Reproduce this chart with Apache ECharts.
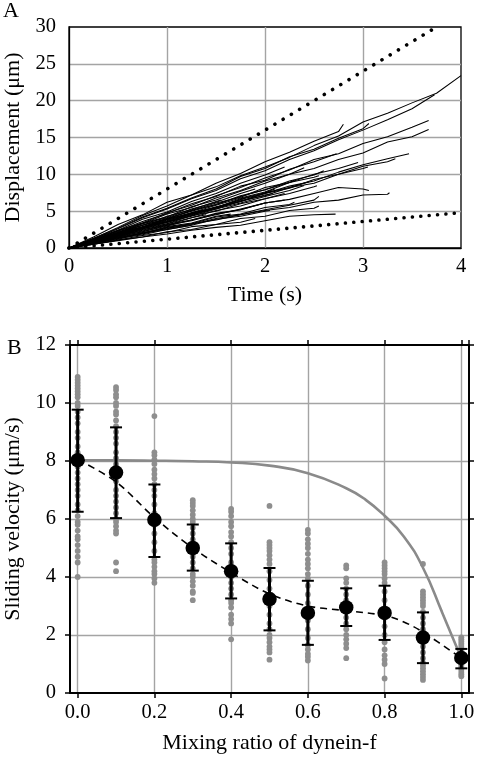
<!DOCTYPE html>
<html><head><meta charset="utf-8">
<script src="https://cdn.jsdelivr.net/npm/echarts@6/dist/echarts.min.js"></script>
<style>html,body{margin:0;padding:0;background:#fff}#c{width:478px;height:757px}</style>
</head><body><div id="c"></div>
<script>
// ---------- Panel A: displacement trajectories (sampled every 0.25 s) ----------
const timeStep = 0.25;
const trajectories = [
  [0,1.3,2.8,4.4,5.7,7.2,8.3,9.8,11.0,12.3,13.9,15.2,17.1,18.3,19.7,21.0],
  [0,1.2,2.6,4.1,5.3,6.7,7.8,9.4,10.5,12.0,13.2,14.7,16.0,17.4,18.9],
  [0,1.0,2.4,3.4,4.8,5.8,7.1,8.2,9.5,10.6,12.0,12.8,14.2,15.1,16.4],
  [0,1.1,2.1,3.4,4.2,5.6,6.5,7.7,8.8,10.0,10.8,12.0,12.9,14.4,15.1],
  [0,0.9,1.8,2.8,3.6,4.7,5.5,6.6,7.4,8.4,9.1,10.3,11.3,12.1],
  [0,0.8,1.7,2.6,3.5,4.4,5.5,6.3,7.4,8.1,9.3,10.0,11.1,11.7],
  [0,0.7,1.3,2.1,2.6,3.3,3.8,4.5,5.1,5.5,6.2,6.5,7.2,7.3],
  [0,0.8,1.7,2.3,3.2,3.8,4.7,5.2,6.1,6.6,7.4,8.2,8.0],
  [0,1.5,3.2,4.5,6.2,7.2,8.8,10.1,11.7,13.0,14.5,15.8],
  [0,1.3,2.7,4.2,5.4,6.8,8.0,9.7,10.8,12.4,13.4,14.9,16.2],
  [0,0.5,1.0,1.5,1.9,2.4,2.8,3.1,3.7,4.3,4.5],
  [0,0.6,1.4,1.9,2.7,3.2,4.0,4.5,5.2,5.8,6.5],
  [0,0.8,1.7,2.4,3.3,4.1,5.1,5.7,6.7,7.4,8.3],
  [0,1.1,2.3,3.6,4.7,6.0,7.0,8.4,9.2,10.7,11.7],
  [0,0.9,1.8,2.6,3.5,4.3,5.3,6.1,7.0,7.8],
  [0,1.0,2.1,2.9,4.0,5.0,5.9,7.1,7.9,8.9],
  [0,0.9,2.0,2.8,3.9,4.8,5.8,6.8,7.6,8.9,9.6],
  [0,1.0,1.8,2.8,3.6,4.5,5.4,6.3,7.2],
  [0,0.7,1.5,2.2,3.0,3.8,4.5,5.3,6.1],
  [0,1.0,1.9,2.9,3.7,4.8,5.5,6.5],
  [0,0.9,1.9,2.8,3.9,4.7,5.5,6.7,7.5],
  [0,1.0,2.0,3.1,4.0,5.1,5.9,7.0,7.9,9.1,9.9],
  [0,1.1,2.0,3.1,3.9,5.1,6.1,6.9,8.2,8.9,10.0,10.8],
  [0,0.6,1.3,1.8,2.5,3.1,3.9,4.3,5.0],
  [0,0.7,1.5,2.0,2.9,3.4,4.3],
  [0,1.2,2.3,3.3,4.6,5.5,6.8,7.8,9.1,10.0],
  [0,1.0,2.2,3.1,4.3,5.2,6.3],
  [0,0.8,1.6,2.6,3.3,4.4,5.0,6.0,6.7],
  [0,0.8,1.6,2.2,3.1,3.7,4.6,5.2,6.1],
  [0,1.1,2.0,3.3,4.1,5.3,6.2,7.4],
  [0,0.6,1.4,2.0,2.8,3.3,4.2,4.6,5.5,5.9],
  [0,0.9,1.9,2.7,3.8,4.6,5.6,6.3,7.5,8.2],
  [0,0.6,1.2,2.0,2.5],
  [0,0.5,1.1,1.5,2.2,2.5,3.2,3.5],
  [0,0.9,1.7,2.8,3.5,4.6,5.3,6.4,7.1,8.2,8.8,10.0,10.8],
  [0,0.5,1.1,1.7,2.1,2.9,3.2,4.0,4.3,5.1,5.4],
  [0,1.3,2.4,3.9,4.9,6.3,7.4,8.8,9.9],
  [0,0.8,1.5,2.5,3.1,4.1]
];
const trajEnds = [
  [4.0,23.4],[3.73,20.8],[3.67,17.3],[3.67,16.1],[3.47,12.8],[3.33,12.1],[3.27,7.5],[3.06,7.8],
  [2.8,16.8],[3.06,16.9],[2.72,4.6],[2.55,7.0],[2.53,8.45],[2.73,12.8],[2.4,8.5],[2.3,9.2],
  [2.55,9.8],[2.08,7.4],[2.2,6.5],[1.8,6.8],[2.1,8.0],[2.6,10.5],[2.95,11.6],[2.05,5.1],
  [1.65,4.6],[2.4,10.9],[1.55,6.5],[2.2,7.4],[2.05,6.2],[1.9,8.0],[2.3,6.2],[2.45,9.0],
  [1.25,3.1],[1.9,4.0],[3.05,11.0],[2.55,5.7],[2.2,11.0],[1.4,4.5]
];
const fastBound = [[0,0],[3.75,30]];
const slowBound = [[0,0],[4,4.8]];
const timeTicks = [0,1,2,3,4];
const dispTicks = [0,5,10,15,20,25,30];

// ---------- Panel B: sliding velocity vs mixing ratio ----------
const mixRatios = [0,0.1,0.2,0.3,0.4,0.5,0.6,0.7,0.8,0.9,1.0];
const meanVel = [8.03,7.6,5.97,5.0,4.2,3.24,2.76,2.95,2.76,1.91,1.21];
const sdLow  = [6.25,6.03,4.69,4.22,3.26,2.16,1.66,2.31,1.83,1.03,0.85];
const sdHigh = [9.77,9.16,7.19,5.81,5.16,4.31,3.87,3.61,3.7,2.78,1.52];
const rawVel = [
  [10.9,10.8,10.7,10.6,10.5,10.4,10.3,10.2,10.0,9.9,9.7,9.5,9.3,9.0,8.8,8.5,8.3,8.1,7.8,7.6,7.4,7.2,7.0,6.8,6.5,6.3,6.1,5.9,5.8,5.6,5.4,5.3,5.1,4.9,4.7,4.5,4.0],
  [10.55,10.45,10.3,10.2,10.0,9.9,9.7,9.6,9.4,9.2,9.0,8.8,8.6,8.3,8.1,7.9,7.6,7.3,7.0,6.8,6.6,6.4,6.2,6.0,5.9,5.75,5.6,5.5,4.5,4.2],
  [9.55,8.3,8.2,8.05,7.9,7.7,7.55,7.4,7.2,7.0,6.8,6.5,6.2,5.8,5.5,5.2,4.9,4.6,4.5,4.35,4.2,4.1,3.95,3.8],
  [6.65,6.55,6.45,6.3,6.15,6.0,5.9,5.7,5.5,5.3,5.1,4.9,4.7,4.5,4.3,4.1,4.0,3.85,3.7,3.5,3.45,3.2],
  [6.35,6.25,6.1,5.9,5.75,5.55,5.4,5.2,5.0,4.8,4.5,4.3,4.0,3.8,3.6,3.4,3.2,3.1,2.95,2.7,2.55,2.4,1.85],
  [6.45,5.2,5.1,5.0,4.9,4.75,4.6,4.45,4.2,3.9,3.6,3.3,3.0,2.7,2.4,2.2,2.0,1.9,1.75,1.6,1.5,1.4,1.15],
  [5.62,5.5,5.3,5.15,5.0,4.8,4.6,4.45,4.3,4.1,3.95,3.7,3.4,3.1,2.8,2.5,2.2,1.9,1.65,1.5,1.35,1.25,1.12],
  [4.4,4.3,3.95,3.8,3.6,3.4,3.2,3.0,2.8,2.6,2.4,2.2,2.0,1.85,1.7,1.55,1.2],
  [4.5,4.4,4.3,4.2,4.1,3.95,3.8,3.5,3.2,2.9,2.6,2.3,2.0,1.75,1.5,1.3,1.15,1.0,0.5],
  [4.45,3.5,3.4,3.3,3.2,3.1,3.0,2.8,2.6,2.4,2.2,2.0,1.8,1.6,1.4,1.2,1.05,0.95,0.85,0.75,0.65,0.55,0.45],
  [1.92,1.85,1.78,1.7,1.62,1.55,1.48,1.4,1.32,1.25,1.18,1.1,1.02,0.95,0.88,0.8,0.72,0.65,0.58]
];
const fitX = [0,0.1,0.2,0.3,0.4,0.5,0.6,0.7,0.8,0.85,0.9,1.0];
const fitY = [8.05,7.28,6.05,5.0,4.15,3.42,3.0,2.84,2.67,2.45,2.1,1.2];
const modelX = [0,0.1,0.2,0.3,0.4,0.5,0.6,0.7,0.75,0.8,0.85,0.9,0.95,1.0];
const modelY = [8.02,8.02,8.01,7.99,7.95,7.84,7.58,7.06,6.67,6.11,5.4,4.32,2.78,1.2];
const velTicks = [0,2,4,6,8,10,12];

// ---------- build ----------
const FONT = 'Liberation Serif';
const chart = echarts.init(document.getElementById('c'));
const series = [];
trajectories.forEach((tr, k) => {
  const pts = tr.map((v, i) => [i * timeStep, v]);
  pts.push(trajEnds[k]);
  series.push({type:'line', xAxisIndex:0, yAxisIndex:0, data:pts, showSymbol:false, symbol:'none',
    lineStyle:{color:'#000', width:1.05}, z:3, silent:true});
});
series.push({type:'line', xAxisIndex:0, yAxisIndex:0, data:fastBound, symbol:'none',
  lineStyle:{color:'#000', width:3.6, type:[0.01, 9.6], cap:'round'}, z:4});
series.push({type:'line', xAxisIndex:0, yAxisIndex:0, data:slowBound, symbol:'none',
  lineStyle:{color:'#000', width:3.6, type:[0.01, 8.4], cap:'round'}, z:4});

const scatterPts = [];
rawVel.forEach((arr, i) => arr.forEach(v => scatterPts.push([mixRatios[i], v])));
series.push({type:'scatter', xAxisIndex:1, yAxisIndex:1, data:scatterPts, symbolSize:5.8,
  itemStyle:{color:'#8e8e8e', opacity:1}, z:2});
series.push({type:'line', xAxisIndex:1, yAxisIndex:1, data:modelX.map((x,i)=>[x, modelY[i]]),
  symbol:'none', smooth:0.5, lineStyle:{color:'#8a8a8a', width:2.6}, z:3});
series.push({type:'custom', xAxisIndex:1, yAxisIndex:1,
  data: mixRatios.map((x,i)=>[x, sdLow[i], sdHigh[i]]),
  encode:{x:0, y:[1,2]}, z:4,
  renderItem:(params, api) => {
    const lo = api.coord([api.value(0), api.value(1)]);
    const hi = api.coord([api.value(0), api.value(2)]);
    const w = 6;
    return {type:'group', children:[
      {type:'line', shape:{x1:lo[0], y1:lo[1], x2:hi[0], y2:hi[1]}, style:{stroke:'#000', lineWidth:3}},
      {type:'line', shape:{x1:lo[0]-w, y1:lo[1], x2:lo[0]+w, y2:lo[1]}, style:{stroke:'#000', lineWidth:2}},
      {type:'line', shape:{x1:hi[0]-w, y1:hi[1], x2:hi[0]+w, y2:hi[1]}, style:{stroke:'#000', lineWidth:2}}
    ]};
  }});
series.push({type:'line', xAxisIndex:1, yAxisIndex:1, data:fitX.map((x,i)=>[x, fitY[i]]),
  symbol:'none', smooth:0.35, lineStyle:{color:'#000', width:1.6, type:[7,5]}, z:5});
series.push({type:'scatter', xAxisIndex:1, yAxisIndex:1, data:mixRatios.map((x,i)=>[x, meanVel[i]]),
  symbolSize:14.5, itemStyle:{color:'#000', opacity:1}, z:6});

const lbl = {fontFamily:FONT, fontSize:20.5, color:'#000'};
const nm = {fontFamily:FONT, fontSize:22, color:'#000'};
const gridLine = {show:true, showMinLine:false, showMaxLine:false, lineStyle:{color:'#a4a4a4', width:1.4}};

chart.setOption({
  animation:false,
  backgroundColor:'#fff',
  title:[
    {text:'A', left:3, top:0, padding:0, textStyle:{fontFamily:FONT, fontSize:22, fontWeight:'normal', color:'#000'}},
    {text:'B', left:7, top:337, padding:0, textStyle:{fontFamily:FONT, fontSize:22, fontWeight:'normal', color:'#000'}}
  ],
  grid:[
    {left:69, top:27, width:392, height:221, show:true, borderColor:'#000', borderWidth:1.3,
     backgroundColor:'transparent', containLabel:false, outerBoundsMode:'none'},
    {left:70, top:345, width:399, height:348, containLabel:false, outerBoundsMode:'none'}
  ],
  xAxis:[
    {gridIndex:0, type:'value', min:timeTicks[0], max:timeTicks[timeTicks.length-1], interval:1,
     axisLine:{show:true, lineStyle:{color:'#000', width:1.3}}, axisTick:{show:false},
     axisLabel:{...lbl, margin:8}, splitLine:gridLine,
     name:'Time (s)', nameLocation:'middle', nameGap:36, nameTextStyle:nm},
    {gridIndex:1, type:'value', min:-0.02, max:1.02, splitNumber:5,
     axisLine:{show:true, onZero:false, lineStyle:{color:'#000', width:2}},
     axisTick:{show:true, inside:false, length:5, lineStyle:{color:'#000', width:1.5}},
     axisLabel:{...lbl, margin:9, showMinLabel:false, showMaxLabel:false, formatter:v=>v.toFixed(1)},
     splitLine:gridLine,
     name:'Mixing ratio of dynein-f', nameLocation:'middle', nameGap:39, nameTextStyle:nm},
    {gridIndex:1, type:'value', position:'top', min:-0.02, max:1.02, splitNumber:5,
     axisLine:{show:true, onZero:false, lineStyle:{color:'#000', width:2}},
     axisTick:{show:true, inside:false, length:5, lineStyle:{color:'#000', width:1.5}},
     axisLabel:{show:false}, splitLine:{show:false}}
  ],
  yAxis:[
    {gridIndex:0, type:'value', min:dispTicks[0], max:dispTicks[dispTicks.length-1], interval:5,
     axisLine:{show:true, lineStyle:{color:'#000', width:1.3}}, axisTick:{show:false},
     axisLabel:{...lbl, margin:13}, splitLine:gridLine,
     name:'Displacement (μm)', nameLocation:'middle', nameGap:44, nameTextStyle:nm},
    {gridIndex:1, type:'value', min:velTicks[0], max:velTicks[velTicks.length-1], interval:2,
     axisLine:{show:true, onZero:false, lineStyle:{color:'#000', width:2}},
     axisTick:{show:true, inside:false, length:5, lineStyle:{color:'#000', width:1.5}},
     axisLabel:{...lbl, margin:14}, splitLine:gridLine,
     name:'Sliding velocity (μm/s)', nameLocation:'middle', nameGap:45, nameTextStyle:nm},
    {gridIndex:1, type:'value', position:'right', min:velTicks[0], max:velTicks[velTicks.length-1], interval:2,
     axisLine:{show:true, onZero:false, lineStyle:{color:'#000', width:2}},
     axisTick:{show:true, inside:false, length:5, lineStyle:{color:'#000', width:1.5}},
     axisLabel:{show:false}, splitLine:{show:false}}
  ],
  series: series
});
</script></body></html>
